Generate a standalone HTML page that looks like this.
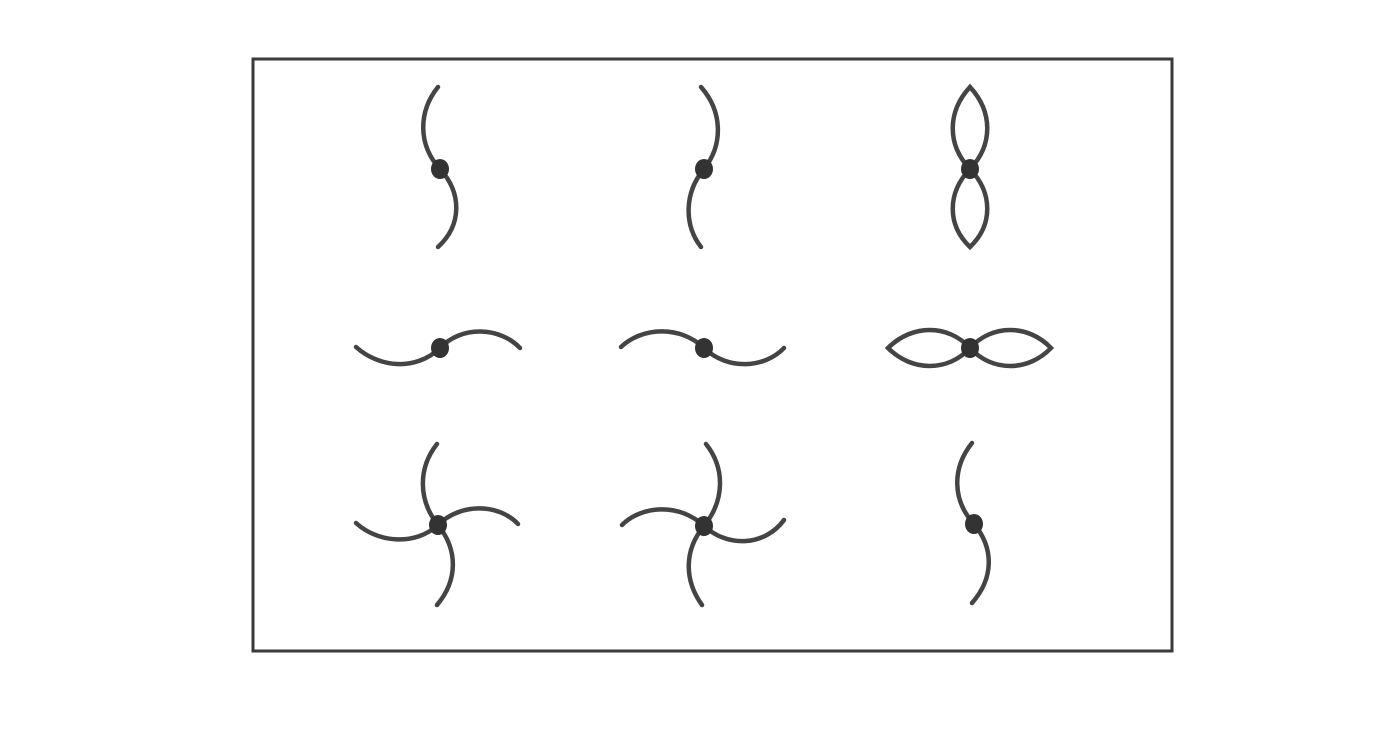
<!DOCTYPE html>
<html><head><meta charset="utf-8"><style>html,body{margin:0;padding:0;background:#fff}svg{display:block}</style></head>
<body>
<svg width="1400" height="752" viewBox="0 0 1400 752">
<rect x="253" y="59" width="919" height="592" fill="none" stroke="#3a3a3a" stroke-width="3"/>
<g fill="none" stroke="#444" stroke-width="4.5" stroke-linecap="round">
<path d="M438,87 C418,112 418,145 440,169 C462,193 462,225 438,247"/>
<path d="M701,87 C723,112 723,145 704,169 C684,193 684,225 701,247"/>
<path d="M970,87 C947,112 947,145 970,169 C993,145 993,112 970,87 Z M970,169 C947,193 947,225 970,247 C993,225 993,193 970,169 Z"/>
<path d="M356,347 C378,367 415,372 440,348 C462,325 500,327 520,348"/>
<path d="M621,347 C642,327 680,325 704,348 C728,371 765,368 784,348"/>
<path d="M888,348 C912,324 948,324 970,348 C948,372 912,372 888,348 Z M970,348 C992,324 1028,324 1051,348 C1028,372 992,372 970,348 Z"/>
<path d="M437,444 C418,468 418,500 438,525 C458,550 458,580 437,605 M356,523 C378,543 415,546 438,525 C460,503 498,503 518,524"/>
<path d="M706,444 C725,468 725,500 704,526 C684,550 684,580 702,605 M622,525 C642,505 680,503 704,526 C728,548 765,546 784,520"/>
<path d="M972,443 C952,468 952,500 974,524 C994,548 994,578 972,603"/>
</g>
<g fill="#333">
<ellipse cx="440" cy="169" rx="9" ry="10"/>
<ellipse cx="704" cy="169" rx="9" ry="10"/>
<ellipse cx="970" cy="169" rx="9" ry="10"/>
<ellipse cx="440" cy="348" rx="9" ry="10"/>
<ellipse cx="704" cy="348" rx="9" ry="10"/>
<ellipse cx="970" cy="348" rx="9" ry="10"/>
<ellipse cx="438" cy="525" rx="9" ry="10"/>
<ellipse cx="704" cy="526" rx="9" ry="10"/>
<ellipse cx="974" cy="524" rx="9" ry="10"/>
</g>
</svg>
</body></html>
